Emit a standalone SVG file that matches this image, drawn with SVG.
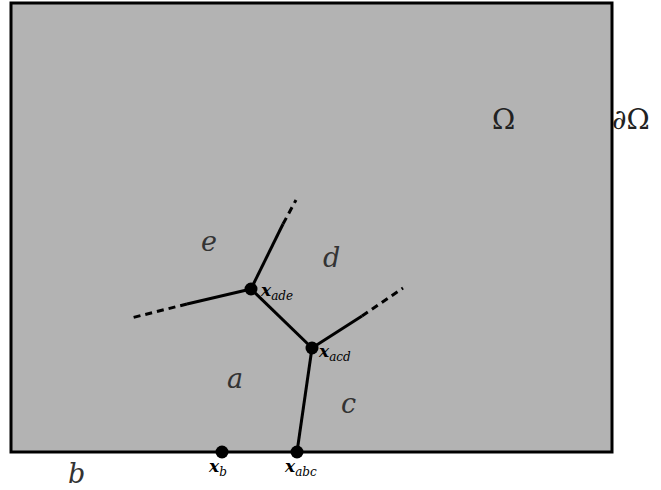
<svg xmlns="http://www.w3.org/2000/svg" width="661" height="490" viewBox="0 0 661 490">
<style>
.reg{font-family:"DejaVu Serif","Liberation Serif",serif;font-style:italic;font-size:27px;fill:#333}
.om{font-family:"DejaVu Serif","Liberation Serif",serif;font-size:28px;fill:#222}
.pt{font-family:"DejaVu Serif","Liberation Serif",serif;font-style:italic;font-weight:bold;font-size:17px;fill:#000}
.sub{font-weight:normal;font-size:12px}
.edge{stroke:#000;stroke-width:3;fill:none;stroke-linecap:butt}
.dash{stroke-dasharray:7 5}
</style>
<g id="domain">
<rect x="11" y="3" width="601" height="449" fill="#b3b3b3" stroke="#000" stroke-width="3"/>
</g>
<g id="connectors">
<line class="edge" x1="251" y1="289" x2="283" y2="224"/>
<line class="edge dash" x1="283" y1="224" x2="296" y2="200"/>
<line class="edge" x1="251" y1="289" x2="187" y2="304"/>
<line class="edge dash" x1="187" y1="304" x2="131" y2="318"/>
<line class="edge" x1="251" y1="289" x2="312" y2="348"/>
<line class="edge" x1="312" y1="348" x2="362" y2="316"/>
<line class="edge dash" x1="362" y1="316" x2="403" y2="288"/>
<line class="edge" x1="312" y1="348" x2="297" y2="452"/>
</g>
<g id="x_ade"><circle cx="251" cy="289" r="6.5"/><text class="pt" x="261" y="296">x<tspan class="sub" dy="4">ade</tspan></text></g>
<g id="x_acd"><circle cx="312" cy="348" r="6.5"/><text class="pt" x="319" y="357">x<tspan class="sub" dy="4">acd</tspan></text></g>
<g id="x_abc"><circle cx="297" cy="452" r="6.5"/><text class="pt" x="285" y="472">x<tspan class="sub" dy="4">abc</tspan></text></g>
<g id="x_b"><circle cx="222" cy="452" r="6.5"/><text class="pt" x="209" y="472">x<tspan class="sub" dy="4">b</tspan></text></g>
<g id="labels">
<text class="reg" x="201" y="251">e</text>
<text class="reg" x="323" y="267">d</text>
<text class="reg" x="227" y="388">a</text>
<text class="reg" x="341" y="413">c</text>
<text class="reg" x="68" y="483">b</text>
<text class="om" x="492" y="129">Ω</text>
<text class="om" x="612" y="129">∂Ω</text>
</g>
</svg>
